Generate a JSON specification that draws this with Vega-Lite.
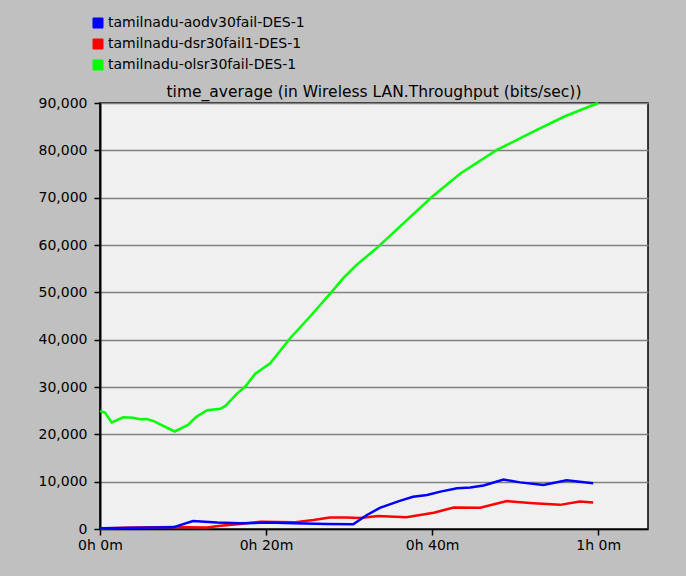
{
  "$schema": "https://vega.github.io/schema/vega-lite/v6.json",
  "width": 548,
  "height": 426,
  "autosize": {"type": "none"},
  "padding": {"left": 100, "top": 103, "right": 38, "bottom": 47},
  "background": "#c0c0c0",
  "title": {
    "text": "time_average (in Wireless LAN.Throughput (bits/sec))",
    "font": "DejaVu Sans",
    "fontSize": 15.5,
    "fontWeight": "normal",
    "color": "#000000",
    "anchor": "middle",
    "offset": 4,
    "dy": 88
  },
  "config": {
    "view": {"fill": "#f0f0f0", "stroke": "#000000", "strokeWidth": 1.5},
    "font": "DejaVu Sans"
  },
  "data": {
    "values": [
      {"s": "tamilnadu-olsr30fail-DES-1", "t": 0, "v": 24900},
      {"s": "tamilnadu-olsr30fail-DES-1", "t": 0.6, "v": 24600},
      {"s": "tamilnadu-olsr30fail-DES-1", "t": 1.4, "v": 22500},
      {"s": "tamilnadu-olsr30fail-DES-1", "t": 2.8, "v": 23600},
      {"s": "tamilnadu-olsr30fail-DES-1", "t": 4.0, "v": 23500},
      {"s": "tamilnadu-olsr30fail-DES-1", "t": 4.8, "v": 23200},
      {"s": "tamilnadu-olsr30fail-DES-1", "t": 5.6, "v": 23250},
      {"s": "tamilnadu-olsr30fail-DES-1", "t": 6.4, "v": 22850},
      {"s": "tamilnadu-olsr30fail-DES-1", "t": 9.0, "v": 20600},
      {"s": "tamilnadu-olsr30fail-DES-1", "t": 10.6, "v": 22000},
      {"s": "tamilnadu-olsr30fail-DES-1", "t": 11.6, "v": 23700},
      {"s": "tamilnadu-olsr30fail-DES-1", "t": 12.9, "v": 25100},
      {"s": "tamilnadu-olsr30fail-DES-1", "t": 14.5, "v": 25400},
      {"s": "tamilnadu-olsr30fail-DES-1", "t": 15.1, "v": 26000},
      {"s": "tamilnadu-olsr30fail-DES-1", "t": 16.5, "v": 28600},
      {"s": "tamilnadu-olsr30fail-DES-1", "t": 17.5, "v": 30100},
      {"s": "tamilnadu-olsr30fail-DES-1", "t": 18.7, "v": 32800},
      {"s": "tamilnadu-olsr30fail-DES-1", "t": 20.5, "v": 35000},
      {"s": "tamilnadu-olsr30fail-DES-1", "t": 22.9, "v": 40300},
      {"s": "tamilnadu-olsr30fail-DES-1", "t": 25.3, "v": 44900},
      {"s": "tamilnadu-olsr30fail-DES-1", "t": 27.9, "v": 50100},
      {"s": "tamilnadu-olsr30fail-DES-1", "t": 29.3, "v": 53000},
      {"s": "tamilnadu-olsr30fail-DES-1", "t": 30.9, "v": 55800},
      {"s": "tamilnadu-olsr30fail-DES-1", "t": 33.3, "v": 59300},
      {"s": "tamilnadu-olsr30fail-DES-1", "t": 36.5, "v": 64500},
      {"s": "tamilnadu-olsr30fail-DES-1", "t": 40.0, "v": 70200},
      {"s": "tamilnadu-olsr30fail-DES-1", "t": 43.4, "v": 75100},
      {"s": "tamilnadu-olsr30fail-DES-1", "t": 47.8, "v": 80100},
      {"s": "tamilnadu-olsr30fail-DES-1", "t": 52.6, "v": 84300},
      {"s": "tamilnadu-olsr30fail-DES-1", "t": 56.0, "v": 87200},
      {"s": "tamilnadu-olsr30fail-DES-1", "t": 60.0, "v": 90000},
      {"s": "tamilnadu-dsr30fail1-DES-1", "t": 0, "v": 100},
      {"s": "tamilnadu-dsr30fail1-DES-1", "t": 3.2, "v": 280},
      {"s": "tamilnadu-dsr30fail1-DES-1", "t": 8.8, "v": 400},
      {"s": "tamilnadu-dsr30fail1-DES-1", "t": 12.9, "v": 300},
      {"s": "tamilnadu-dsr30fail1-DES-1", "t": 14.5, "v": 700},
      {"s": "tamilnadu-dsr30fail1-DES-1", "t": 16.9, "v": 1050},
      {"s": "tamilnadu-dsr30fail1-DES-1", "t": 19.3, "v": 1550},
      {"s": "tamilnadu-dsr30fail1-DES-1", "t": 23.3, "v": 1400},
      {"s": "tamilnadu-dsr30fail1-DES-1", "t": 25.7, "v": 1900},
      {"s": "tamilnadu-dsr30fail1-DES-1", "t": 27.7, "v": 2450},
      {"s": "tamilnadu-dsr30fail1-DES-1", "t": 29.7, "v": 2450},
      {"s": "tamilnadu-dsr30fail1-DES-1", "t": 31.3, "v": 2350},
      {"s": "tamilnadu-dsr30fail1-DES-1", "t": 33.5, "v": 2750},
      {"s": "tamilnadu-dsr30fail1-DES-1", "t": 36.9, "v": 2500},
      {"s": "tamilnadu-dsr30fail1-DES-1", "t": 40.2, "v": 3450},
      {"s": "tamilnadu-dsr30fail1-DES-1", "t": 42.6, "v": 4550},
      {"s": "tamilnadu-dsr30fail1-DES-1", "t": 45.8, "v": 4500},
      {"s": "tamilnadu-dsr30fail1-DES-1", "t": 49.0, "v": 5900},
      {"s": "tamilnadu-dsr30fail1-DES-1", "t": 52.2, "v": 5450},
      {"s": "tamilnadu-dsr30fail1-DES-1", "t": 55.4, "v": 5100},
      {"s": "tamilnadu-dsr30fail1-DES-1", "t": 57.8, "v": 5800},
      {"s": "tamilnadu-dsr30fail1-DES-1", "t": 59.4, "v": 5600},
      {"s": "tamilnadu-aodv30fail-DES-1", "t": 0, "v": 150},
      {"s": "tamilnadu-aodv30fail-DES-1", "t": 8.8, "v": 350},
      {"s": "tamilnadu-aodv30fail-DES-1", "t": 11.2, "v": 1700},
      {"s": "tamilnadu-aodv30fail-DES-1", "t": 14.1, "v": 1350},
      {"s": "tamilnadu-aodv30fail-DES-1", "t": 16.9, "v": 1200},
      {"s": "tamilnadu-aodv30fail-DES-1", "t": 20.1, "v": 1350},
      {"s": "tamilnadu-aodv30fail-DES-1", "t": 23.3, "v": 1200},
      {"s": "tamilnadu-aodv30fail-DES-1", "t": 27.3, "v": 1050},
      {"s": "tamilnadu-aodv30fail-DES-1", "t": 30.5, "v": 1000},
      {"s": "tamilnadu-aodv30fail-DES-1", "t": 32.1, "v": 2900},
      {"s": "tamilnadu-aodv30fail-DES-1", "t": 33.7, "v": 4450},
      {"s": "tamilnadu-aodv30fail-DES-1", "t": 36.1, "v": 5950},
      {"s": "tamilnadu-aodv30fail-DES-1", "t": 37.7, "v": 6800},
      {"s": "tamilnadu-aodv30fail-DES-1", "t": 39.4, "v": 7200},
      {"s": "tamilnadu-aodv30fail-DES-1", "t": 41.0, "v": 7900},
      {"s": "tamilnadu-aodv30fail-DES-1", "t": 43.0, "v": 8600},
      {"s": "tamilnadu-aodv30fail-DES-1", "t": 44.6, "v": 8750},
      {"s": "tamilnadu-aodv30fail-DES-1", "t": 46.2, "v": 9200},
      {"s": "tamilnadu-aodv30fail-DES-1", "t": 48.6, "v": 10450},
      {"s": "tamilnadu-aodv30fail-DES-1", "t": 50.6, "v": 9850},
      {"s": "tamilnadu-aodv30fail-DES-1", "t": 53.4, "v": 9300},
      {"s": "tamilnadu-aodv30fail-DES-1", "t": 56.2, "v": 10300},
      {"s": "tamilnadu-aodv30fail-DES-1", "t": 59.4, "v": 9650}
    ]
  },
  "mark": {"type": "line", "strokeWidth": 2.5},
  "encoding": {
    "x": {
      "field": "t",
      "type": "quantitative",
      "title": null,
      "scale": {"domain": [0, 66], "nice": false, "zero": false},
      "axis": {
        "values": [0, 20, 40, 60],
        "labelExpr": "floor(datum.value / 60) + 'h ' + (datum.value % 60) + 'm'",
        "grid": false,
        "domainColor": "#000000",
        "domainWidth": 1.5,
        "tickColor": "#000000",
        "tickWidth": 1.5,
        "tickSize": 6,
        "labelPadding": 3,
        "labelFont": "DejaVu Sans",
        "labelFontSize": 14,
        "labelColor": "#000000",
        "labelFlush": false
      }
    },
    "y": {
      "field": "v",
      "type": "quantitative",
      "title": null,
      "scale": {"domain": [0, 90000], "nice": false},
      "axis": {
        "values": [0, 10000, 20000, 30000, 40000, 50000, 60000, 70000, 80000, 90000],
        "labelExpr": "format(datum.value, ',.0f')",
        "grid": true,
        "gridColor": "#808080",
        "gridWidth": 1.5,
        "domainColor": "#000000",
        "domainWidth": 2,
        "tickColor": "#000000",
        "tickWidth": 1.5,
        "tickSize": 6,
        "labelPadding": 7,
        "labelFont": "DejaVu Sans",
        "labelFontSize": 14,
        "labelColor": "#000000"
      }
    },
    "color": {
      "field": "s",
      "type": "nominal",
      "title": null,
      "scale": {
        "domain": ["tamilnadu-aodv30fail-DES-1", "tamilnadu-dsr30fail1-DES-1", "tamilnadu-olsr30fail-DES-1"],
        "range": ["#0000ff", "#ff0000", "#00ff00"]
      },
      "legend": {
        "orient": "none",
        "legendX": -9,
        "legendY": -87,
        "symbolType": "square",
        "symbolSize": 100,
        "symbolStrokeWidth": 1,
        "labelFont": "DejaVu Sans",
        "labelFontSize": 14,
        "labelColor": "#000000",
        "labelOffset": 3,
        "labelLimit": 0,
        "rowPadding": 7,
        "encode": {
          "symbols": {
            "update": {
              "fill": {"scale": "color", "field": "value"},
              "stroke": {"value": "#000000"},
              "opacity": {"value": 1},
              "fillOpacity": {"value": 1}
            }
          }
        }
      }
    }
  }
}
